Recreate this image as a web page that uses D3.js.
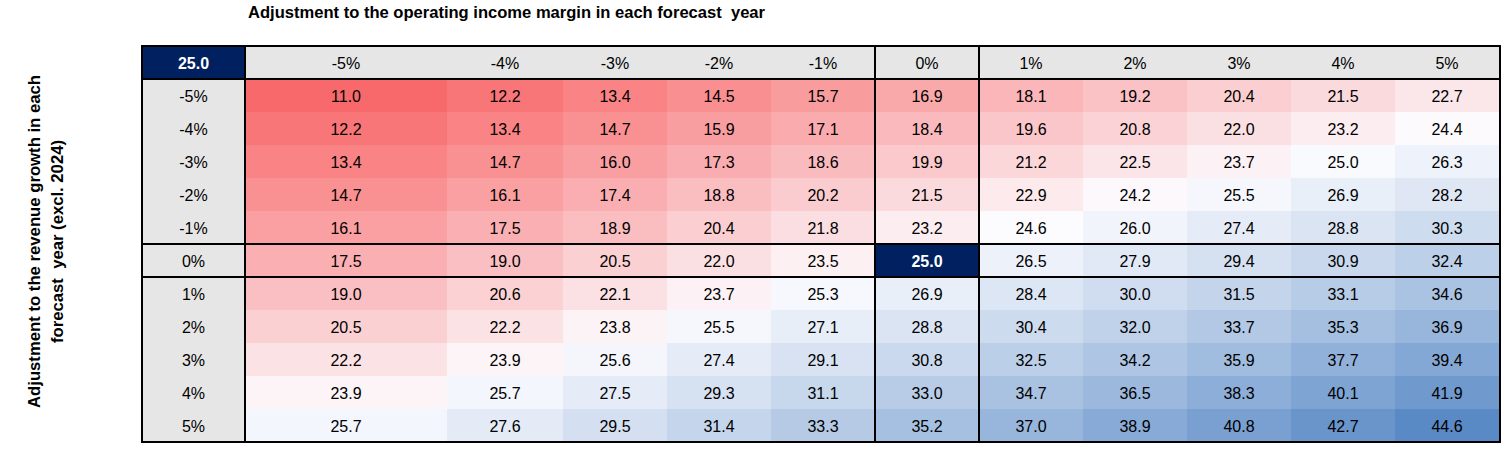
<!DOCTYPE html>
<html>
<head>
<meta charset="utf-8">
<script src="https://cdn.jsdelivr.net/npm/d3@7"></script>
<style>
  body { margin: 0; background: #fff; }
  text { font-family: "Liberation Sans", Arial, sans-serif; }
</style>
</head>
<body>
<script>
let w = 1511;
let h = 450;

// margin adjustments (columns) and revenue growth adjustments (rows)
let marginAdj = ["-5%", "-4%", "-3%", "-2%", "-1%", "0%", "1%", "2%", "3%", "4%", "5%"];
let growthAdj = ["-5%", "-4%", "-3%", "-2%", "-1%", "0%", "1%", "2%", "3%", "4%", "5%"];
let baseValue = 25.0;

let r_m5 = [11.0, 12.2, 13.4, 14.5, 15.7, 16.9, 18.1, 19.2, 20.4, 21.5, 22.7];
let r_m4 = [12.2, 13.4, 14.7, 15.9, 17.1, 18.4, 19.6, 20.8, 22.0, 23.2, 24.4];
let r_m3 = [13.4, 14.7, 16.0, 17.3, 18.6, 19.9, 21.2, 22.5, 23.7, 25.0, 26.3];
let r_m2 = [14.7, 16.1, 17.4, 18.8, 20.2, 21.5, 22.9, 24.2, 25.5, 26.9, 28.2];
let r_m1 = [16.1, 17.5, 18.9, 20.4, 21.8, 23.2, 24.6, 26.0, 27.4, 28.8, 30.3];
let r_0 = [17.5, 19.0, 20.5, 22.0, 23.5, 25.0, 26.5, 27.9, 29.4, 30.9, 32.4];
let r_p1 = [19.0, 20.6, 22.1, 23.7, 25.3, 26.9, 28.4, 30.0, 31.5, 33.1, 34.6];
let r_p2 = [20.5, 22.2, 23.8, 25.5, 27.1, 28.8, 30.4, 32.0, 33.7, 35.3, 36.9];
let r_p3 = [22.2, 23.9, 25.6, 27.4, 29.1, 30.8, 32.5, 34.2, 35.9, 37.7, 39.4];
let r_p4 = [23.9, 25.7, 27.5, 29.3, 31.1, 33.0, 34.7, 36.5, 38.3, 40.1, 41.9];
let r_p5 = [25.7, 27.6, 29.5, 31.4, 33.3, 35.2, 37.0, 38.9, 40.8, 42.7, 44.6];

let rows = [r_m5, r_m4, r_m3, r_m2, r_m1, r_0, r_p1, r_p2, r_p3, r_p4, r_p5];

// layout
let tLeft = 142, tRight = 1500, tTop = 46, tBottom = 442;
let labelW = 103;
let colW = [202, 116, 104, 104, 104, 104, 104, 104, 104, 104, 104];
let fs = "16px";

let cells = [];
rows.forEach((r, i) => r.forEach((v, j) => cells.push({ row: growthAdj[i], col: marginAdj[j], v: v })));

let svg = d3.select("body").append("svg").attr("width", w).attr("height", h);

// column scale: ordinal with cumulative widths
let starts = [];
let acc = tLeft + labelW;
colW.forEach((cw) => { starts.push(acc); acc += cw; });
let xScale = d3.scaleOrdinal().domain(marginAdj).range(starts);
let xWidth = d3.scaleOrdinal().domain(marginAdj).range(colW);

let yScale = d3
  .scaleBand()
  .domain(["head"].concat(growthAdj))
  .range([tTop, tBottom]);

let all = cells.map((d) => d.v);
let color = d3
  .scaleLinear()
  .domain([d3.min(all), d3.median(all), d3.max(all)])
  .range(["#f8696b", "#fcfcff", "#5a8ac6"]);

let isBase = (d) => d.row === "0%" && d.col === "0%";
let ty = (y) => y + yScale.bandwidth() / 2 + 6;

// header background
svg.append("rect")
  .attr("x", tLeft).attr("y", tTop)
  .attr("width", tRight - tLeft).attr("height", yScale.bandwidth())
  .attr("fill", "#e6e6e6");
// label column background
svg.append("rect")
  .attr("x", tLeft).attr("y", yScale(growthAdj[0]))
  .attr("width", labelW).attr("height", tBottom - yScale(growthAdj[0]))
  .attr("fill", "#e6e6e6");

// cells
svg.selectAll("rect.cell")
  .data(cells)
  .enter()
  .append("rect")
  .attr("class", "cell")
  .attr("x", (d) => xScale(d.col))
  .attr("y", (d) => yScale(d.row))
  .attr("width", (d) => xWidth(d.col))
  .attr("height", yScale.bandwidth())
  .attr("fill", (d) => (isBase(d) ? "#002060" : color(d.v)));

svg.selectAll("text.val")
  .data(cells)
  .enter()
  .append("text")
  .attr("class", "val")
  .attr("x", (d) => xScale(d.col) + xWidth(d.col) / 2)
  .attr("y", (d) => ty(yScale(d.row)))
  .attr("text-anchor", "middle")
  .style("font-size", fs)
  .style("font-weight", (d) => (isBase(d) ? "bold" : "normal"))
  .attr("fill", (d) => (isBase(d) ? "#fff" : "#000"))
  .text((d) => d.v.toFixed(1));

// corner
svg.append("rect")
  .attr("x", tLeft).attr("y", tTop)
  .attr("width", labelW).attr("height", yScale.bandwidth())
  .attr("fill", "#002060");
svg.append("text")
  .attr("x", tLeft + labelW / 2)
  .attr("y", ty(tTop))
  .attr("text-anchor", "middle")
  .attr("fill", "#fff")
  .style("font-size", fs)
  .style("font-weight", "bold")
  .text(baseValue.toFixed(1));

// column headers
svg.selectAll("text.colh")
  .data(marginAdj)
  .enter()
  .append("text")
  .attr("class", "colh")
  .attr("x", (d) => xScale(d) + xWidth(d) / 2)
  .attr("y", ty(tTop))
  .attr("text-anchor", "middle")
  .style("font-size", fs)
  .text((d) => d);

// row headers
svg.selectAll("text.rowh")
  .data(growthAdj)
  .enter()
  .append("text")
  .attr("class", "rowh")
  .attr("x", tLeft + labelW / 2)
  .attr("y", (d) => ty(yScale(d)))
  .attr("text-anchor", "middle")
  .style("font-size", fs)
  .text((d) => d);

// thick grid lines
let vx = [tLeft + labelW, xScale("0%"), xScale("1%")];
svg.selectAll("line.v")
  .data(vx)
  .enter()
  .append("line")
  .attr("x1", (d) => d).attr("x2", (d) => d)
  .attr("y1", tTop).attr("y2", tBottom)
  .attr("stroke", "#000").attr("stroke-width", 2);

let hy = [yScale(growthAdj[0]), yScale("0%"), yScale("1%")];
svg.selectAll("line.h")
  .data(hy)
  .enter()
  .append("line")
  .attr("x1", tLeft).attr("x2", tRight)
  .attr("y1", (d) => d).attr("y2", (d) => d)
  .attr("stroke", "#000").attr("stroke-width", 2);

svg.append("rect")
  .attr("x", tLeft).attr("y", tTop)
  .attr("width", tRight - tLeft).attr("height", tBottom - tTop)
  .attr("fill", "none")
  .attr("stroke", "#000").attr("stroke-width", 2);

// titles
svg.append("text")
  .attr("x", 248)
  .attr("y", 18)
  .style("font-size", fs)
  .style("font-weight", "bold")
  .style("white-space", "pre")
  .attr("textLength", 517)
  .attr("lengthAdjust", "spacingAndGlyphs")
  .text("Adjustment to the operating income margin in each forecast  year");

let yl = svg.append("g").attr("transform", "translate(40,241.5) rotate(-90)");
yl.append("text")
  .attr("text-anchor", "middle")
  .style("font-size", fs)
  .style("font-weight", "bold")
  .attr("textLength", 333)
  .attr("lengthAdjust", "spacingAndGlyphs")
  .text("Adjustment to the revenue growth in each");
yl.append("text")
  .attr("y", 23)
  .attr("text-anchor", "middle")
  .style("font-size", fs)
  .style("font-weight", "bold")
  .style("white-space", "pre")
  .attr("textLength", 203)
  .attr("lengthAdjust", "spacingAndGlyphs")
  .text("forecast  year (excl. 2024)");
</script>
</body>
</html>
